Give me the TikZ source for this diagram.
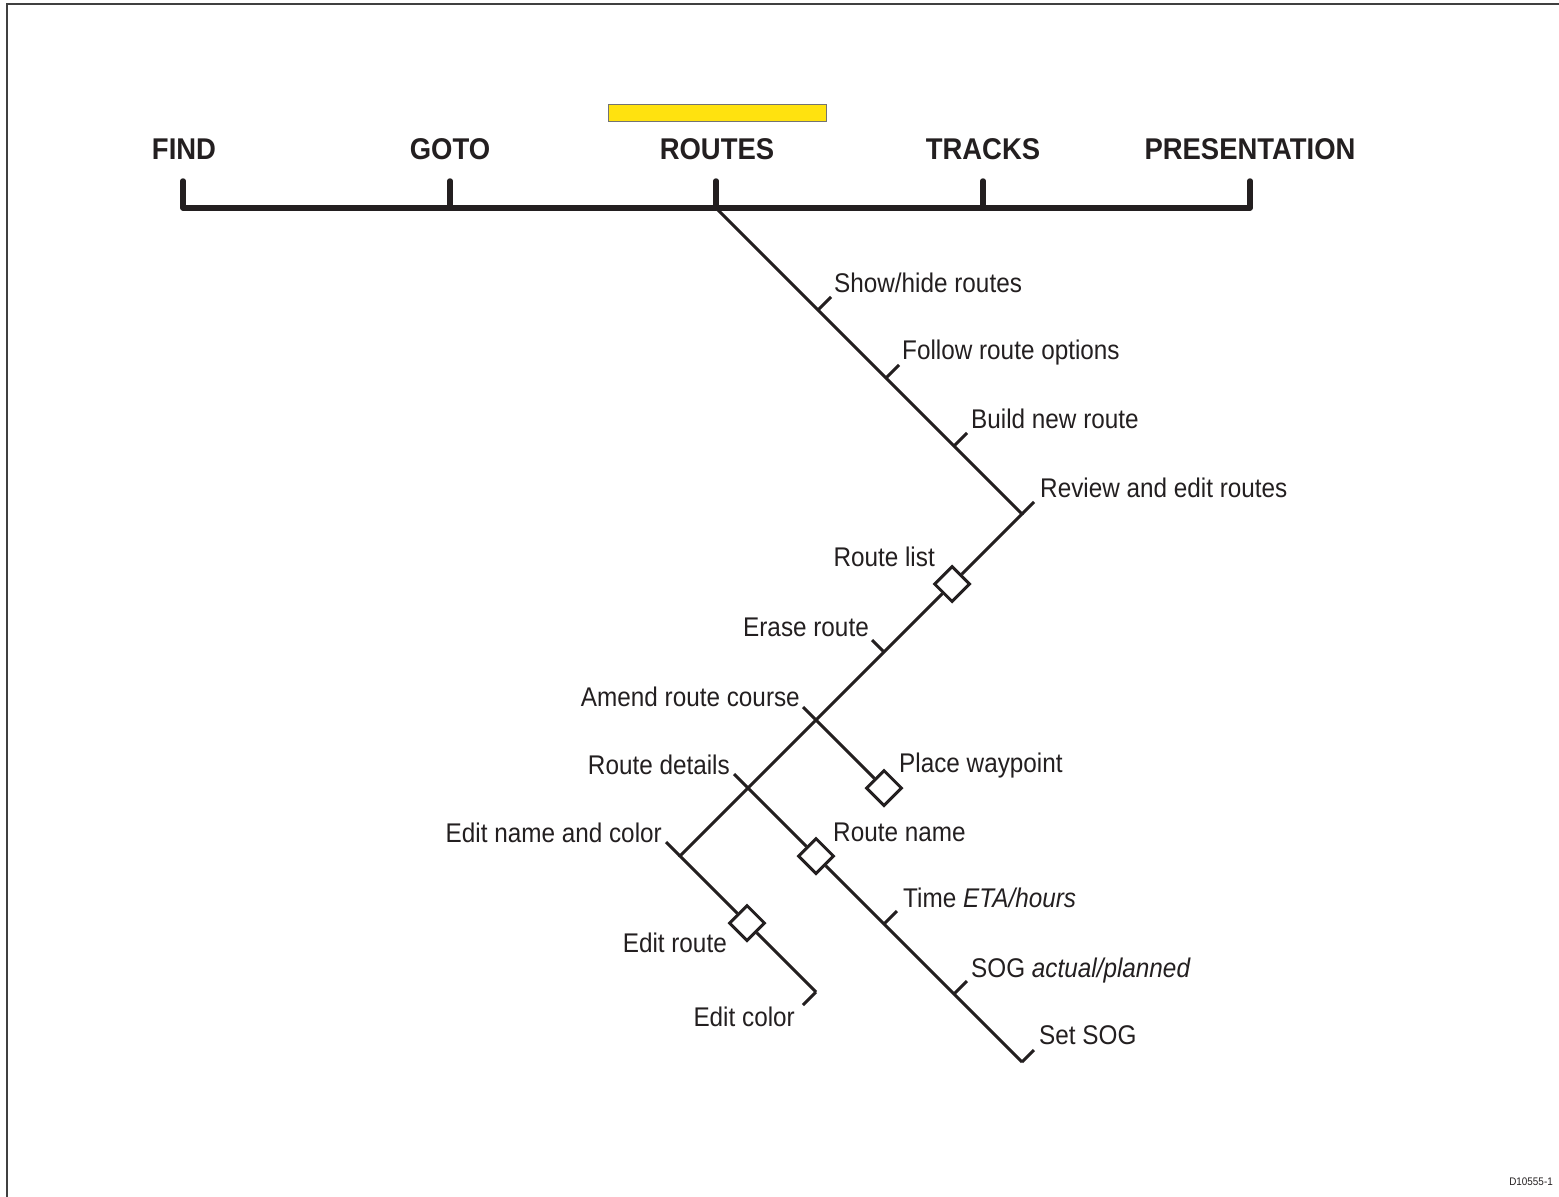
\documentclass[tikz,border=0pt]{standalone}
\usepackage{fontspec}
\setmainfont{Liberation Sans}[FakeStretch=0.9, BoldFeatures={FakeStretch=0.915}]
\usetikzlibrary{shapes.geometric}
\definecolor{ink}{HTML}{231F20}
\definecolor{barfill}{HTML}{FFE20F}
\begin{document}
\begin{tikzpicture}[x=1pt,y=-1pt,
  lbl/.style={inner sep=0pt, text=ink, font=\fontsize{27}{30}\selectfont},
  head/.style={inner sep=0pt, text=ink, font=\fontsize{30}{34}\selectfont\bfseries, anchor=base},
  bar/.style={draw=ink, line width=5.5pt, line cap=round, line join=round},
  branch/.style={draw=ink, line width=3pt, line join=miter},
  dmd/.style={diamond, draw=ink, fill=white, line width=3pt, minimum width=36pt, minimum height=36pt, inner sep=0pt, aspect=1}]
\useasboundingbox (0,0) rectangle (1559,1197);
% frame
\draw[draw=black!75, line width=1.6pt] (7,1200) -- (7,4) -- (1562,4);
% highlight bar
\node[draw=black!55, fill=barfill, line width=1pt, minimum width=218pt, minimum height=17pt, inner sep=0pt] (hl) at (717,112.5) {};
% top labels
\node[head] (hFind) at (184,159) {FIND};
\node[head] (hGoto) at (450,159) {GOTO};
\node[head] (hRoutes) at (717,159) {ROUTES};
\node[head] (hTracks) at (983,159) {TRACKS};
\node[head] (hPres) at (1250,159) {PRESENTATION};
% top bar
\coordinate (bFind) at (183,208);
\coordinate (bGoto) at (450,208);
\coordinate (T0) at (716,208);
\coordinate (bTracks) at (983,208);
\coordinate (bPres) at (1250,208);
\draw[bar] (183,181) -- (bFind) -- (bPres) -- (1250,181);
\draw[bar] (bGoto) -- (450,181);
\draw[bar] (T0) -- (716,181);
\draw[bar] (bTracks) -- (983,181);
% coordinates of the tree
\coordinate (S1) at (818,310);
\coordinate (S2) at (886,378);
\coordinate (S3) at (954,446);
\coordinate (RE) at (1022,514);
\coordinate (ER) at (884,652);
\coordinate (AM) at (816,720);
\coordinate (RD) at (748,788);
\coordinate (EN) at (680,856);
\coordinate (TM) at (884,924);
\coordinate (SG) at (954,994);
\coordinate (SS) at (1022,1062);
\coordinate (EC) at (816,992);
\node[dmd] (dRL) at (952,584) {};
\node[dmd] (dPW) at (884,788) {};
\node[dmd] (dRN) at (816,856) {};
\node[dmd] (dER) at (747,923) {};
% lines
\draw[branch] (T0) -- (S1) -- (S2) -- (S3) -- (RE) -- (dRL) -- (ER) -- (AM) -- (RD) -- (EN) -- (dER) -- (EC);
\draw[branch] (AM) -- (dPW);
\draw[branch] (RD) -- (dRN) -- (TM) -- (SG) -- (SS);
% ticks
\draw[branch] (S1) -- ++(13,-13);
\draw[branch] (S2) -- ++(13,-13);
\draw[branch] (S3) -- ++(13,-13);
\draw[branch] (RE) -- ++(12,-12);
\draw[branch] (ER) -- ++(-12,-12);
\draw[branch] (AM) -- ++(-13,-13);
\draw[branch] (RD) -- ++(-14,-14);
\draw[branch] (EN) -- ++(-14,-14);
\draw[branch] (TM) -- ++(13,-13);
\draw[branch] (SG) -- ++(13,-13);
\draw[branch] (SS) -- ++(12,-12);
\draw[branch] (EC) -- ++(-13,13);
% labels
\node[lbl, anchor=base west] (lShow) at (834,292.5) {Show/hide routes};
\node[lbl, anchor=base west] (lFollow) at (902,359.5) {Follow route options};
\node[lbl, anchor=base west] (lBuild) at (971,428.5) {Build new route};
\node[lbl, anchor=base west] (lReview) at (1040,497.5) {Review and edit routes};
\node[lbl, anchor=base east] (lList) at (935,566.5) {Route list};
\node[lbl, anchor=base east] (lErase) at (869,636.5) {Erase route};
\node[lbl, anchor=base east] (lAmend) at (800,706.5) {Amend route course};
\node[lbl, anchor=base east] (lDetails) at (730,774.5) {Route details};
\node[lbl, anchor=base east] (lEditNC) at (662,842.5) {Edit name and color};
\node[lbl, anchor=base west] (lPlace) at (899,772.5) {Place waypoint};
\node[lbl, anchor=base west] (lName) at (833,841.5) {Route name};
\node[lbl, anchor=base west] (lTime) at (903,907.5) {Time \textit{ETA/hours}};
\node[lbl, anchor=base west] (lSOG) at (971,977.5) {SOG \textit{actual/planned}};
\node[lbl, anchor=base west] (lSet) at (1039,1044.5) {Set SOG};
\node[lbl, anchor=base east] (lEditR) at (727,952.5) {Edit route};
\node[lbl, anchor=base east] (lEditC) at (795,1026.5) {Edit color};
\node[inner sep=0pt, text=ink, font=\fontsize{11}{13}\selectfont, anchor=base east] (code) at (1553,1185) {D10555-1};
\end{tikzpicture}
\end{document}
